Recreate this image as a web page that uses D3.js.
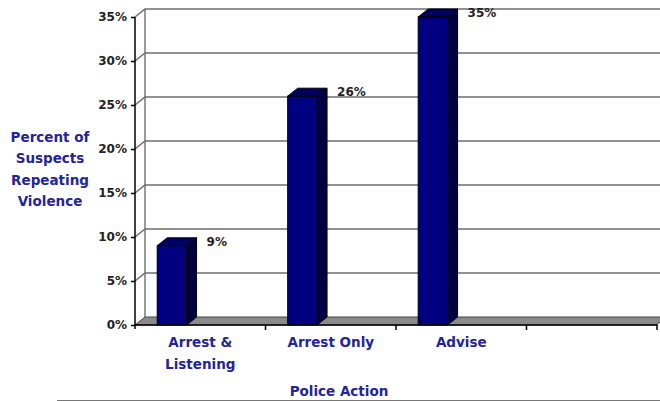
<!DOCTYPE html>
<html>
<head>
<meta charset="utf-8">
<script src="https://cdn.jsdelivr.net/npm/d3@7"></script>
<style>
  body { margin: 0; background: #fff; }
  svg { display: block; font-family: "DejaVu Sans", Verdana, sans-serif; font-weight: bold; }
</style>
</head>
<body>
<svg width="660" height="401"></svg>
<script>
// chart data
const categories = ["Arrest & Listening", "Arrest Only", "Advise", ""]
const values = [9, 26, 35, null]
const yTicks = [0, 5, 10, 15, 20, 25, 30, 35]
const yTitle = ["Percent of", "Suspects", "Repeating", "Violence"]
const xTitle = "Police Action"

const width = 660, height = 401
const depth = { dx: 10, dy: -8 }
const titleBlue = "#23239a"
const blueSize = 13.5

const svg = d3.select('svg')

const x = d3.scaleBand()
    .domain(categories)
    .range([135, 657])

const y = d3.scaleLinear()
    .domain([0, 35])
    .range([325, 17])

const x0 = x.range()[0], x1 = x.range()[1]

// side wall + back wall grid
const grid = svg.append('g')
grid.append('line')
    .attr('x1', x0 + depth.dx).attr('x2', x0 + depth.dx)
    .attr('y1', y(35) + depth.dy).attr('y2', y(0) + depth.dy)
    .attr('stroke', '#9a9a9a').attr('stroke-width', 2)

grid.selectAll('.gl')
    .data(yTicks.filter(t => t > 0))
    .join('path')
    .attr('class', 'gl')
    .attr('fill', 'none')
    .attr('stroke', '#6e6e6e')
    .attr('stroke-width', 1.6)
    .attr('d', t => `M${x0},${y(t)}L${x0 + depth.dx},${y(t) + depth.dy}L${width},${y(t) + depth.dy}`)

// floor
svg.append('path')
    .attr('d', `M${x0},${y(0)}L${x0 + depth.dx},${y(0) + depth.dy}L${width + 5},${y(0) + depth.dy}L${x1},${y(0)}Z`)
    .attr('fill', '#8a8a8a')
    .attr('stroke', '#444')
    .attr('stroke-width', 1)

// bars
const bw = x.bandwidth()
const barW = bw * 0.225
const bars = svg.append('g')
    .selectAll('g')
    .data(categories.map((c, i) => ({ c, v: values[i] })).filter(d => d.v != null))
    .join('g')

const bx = d => x(d.c) + bw * 0.17

bars.append('path') // side
    .attr('d', d => {
        const r = bx(d) + barW
        return `M${r},${y(0)}L${r + depth.dx},${y(0) + depth.dy}L${r + depth.dx},${y(d.v) + depth.dy}L${r},${y(d.v)}Z`
    })
    .attr('fill', '#000040').attr('stroke', '#000').attr('stroke-width', 1)

bars.append('path') // top
    .attr('d', d => {
        const l = bx(d), r = l + barW, t = y(d.v)
        return `M${l},${t}L${l + depth.dx},${t + depth.dy}L${r + depth.dx},${t + depth.dy}L${r},${t}Z`
    })
    .attr('fill', '#00005e').attr('stroke', '#000').attr('stroke-width', 1)

bars.append('rect') // front
    .attr('x', bx)
    .attr('y', d => y(d.v))
    .attr('width', barW)
    .attr('height', d => y(0) - y(d.v))
    .attr('fill', '#000080').attr('stroke', '#000').attr('stroke-width', 1)

bars.append('text')
    .attr('x', d => bx(d) + barW + 20)
    .attr('y', d => y(d.v) - 4)
    .attr('dominant-baseline', 'central')
    .attr('font-size', 12)
    .attr('fill', '#222')
    .text(d => d.v + '%')

// y axis
const yAxis = svg.append('g')
    .attr('transform', `translate(${x0},0)`)
    .call(d3.axisLeft(y).tickValues(yTicks).tickFormat(d => d + '%').tickSize(4).tickPadding(4))
yAxis.select('.domain').attr('d', `M0,${y(35)}V${y(0) + 4}`).attr('stroke', '#000').attr('stroke-width', 1.5)
yAxis.selectAll('.tick line').attr('stroke', '#000').attr('stroke-width', 1.5)
yAxis.selectAll('.tick text')
    .attr('font-size', 12).attr('font-family', '"DejaVu Sans", sans-serif')
    .attr('font-weight', 'bold').attr('fill', '#222')

// x axis
const xAxis = svg.append('g')
    .attr('transform', `translate(0,${y(0)})`)
    .call(d3.axisBottom(x).tickSize(0).tickFormat(''))
xAxis.select('.domain').attr('d', `M${x0},0H${x1}`).attr('stroke', '#000').attr('stroke-width', 1.5)
xAxis.selectAll('.bound')
    .data(categories)
    .join('line')
    .attr('class', 'bound')
    .attr('x1', d => x(d) + bw).attr('x2', d => x(d) + bw)
    .attr('y1', 0).attr('y2', 5)
    .attr('stroke', '#000').attr('stroke-width', 1.5)

// category labels, wrapped like the original
const wrap = { "Arrest & Listening": ["Arrest &", "Listening"] }
svg.append('g')
    .selectAll('text')
    .data(categories.filter(c => c))
    .join('text')
    .attr('x', d => x(d) + bw / 2)
    .attr('y', 347)
    .attr('text-anchor', 'middle')
    .attr('font-size', blueSize)
    .attr('fill', titleBlue)
    .selectAll('tspan')
    .data(d => wrap[d] || [d])
    .join('tspan')
    .attr('x', function () { return d3.select(this.parentNode).attr('x') })
    .attr('dy', (d, i) => i ? 22 : 0)
    .text(d => d)

// axis titles
svg.append('text')
    .attr('x', 50).attr('y', 142)
    .attr('text-anchor', 'middle')
    .attr('font-size', blueSize)
    .attr('fill', titleBlue)
    .selectAll('tspan')
    .data(yTitle)
    .join('tspan')
    .attr('x', 50)
    .attr('dy', (d, i) => i ? 21.3 : 0)
    .text(d => d)

svg.append('text')
    .attr('x', 339).attr('y', 396)
    .attr('text-anchor', 'middle')
    .attr('font-size', blueSize)
    .attr('fill', titleBlue)
    .text(xTitle)

// rule at the bottom
svg.append('line')
    .attr('x1', 57).attr('x2', width)
    .attr('y1', 400.5).attr('y2', 400.5)
    .attr('stroke', '#777').attr('stroke-width', 1)
</script>
</body>
</html>
